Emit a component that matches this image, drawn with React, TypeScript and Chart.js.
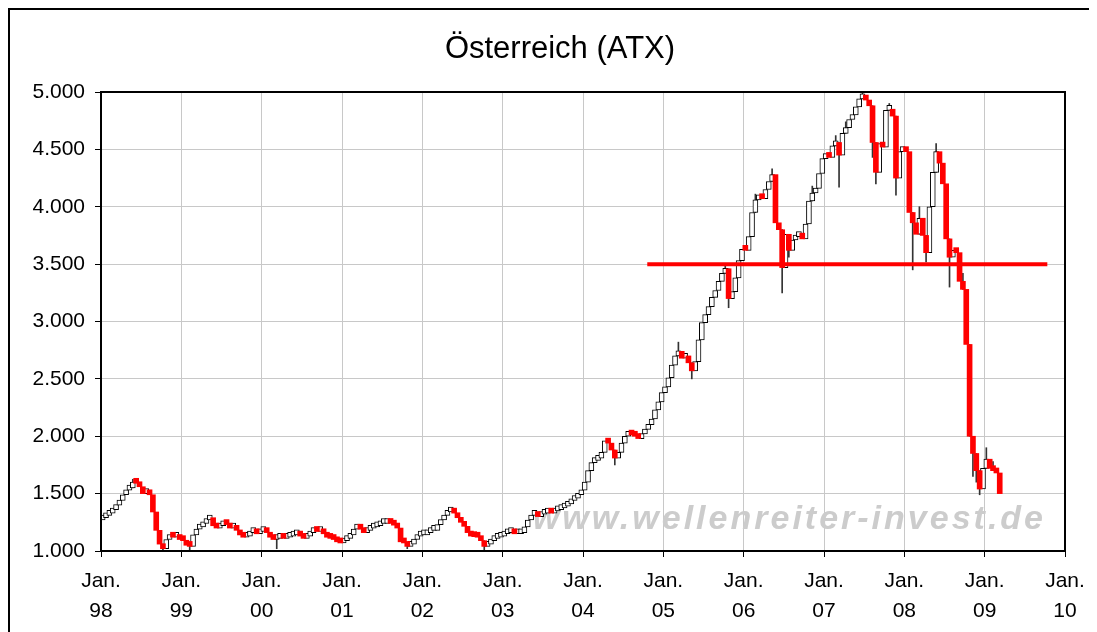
import React, { useEffect, useRef } from "react";
import { Chart, registerables } from "chart.js";

Chart.register(...registerables);

// ---------- data (semi-monthly closes) ----------
const chartTitle = "Österreich (ATX)";
const watermarkText = "www.wellenreiter-invest.de";
const yearTicks = [1998, 1999, 2000, 2001, 2002, 2003, 2004, 2005, 2006, 2007, 2008, 2009, 2010];
const firstOpen = 1270;

const close1998 = [1290, 1310, 1330, 1360, 1400, 1440, 1490, 1530, 1550, 1600, 1590, 1560, 1500, 1530, 1490, 1340, 1180, 1060, 1020, 1100, 1140, 1120, 1130, 1100];
const close1999 = [1090, 1050, 1040, 1140, 1190, 1210, 1240, 1270, 1290, 1220, 1200, 1220, 1250, 1230, 1200, 1210, 1180, 1140, 1120, 1130, 1160, 1160, 1150, 1170];
const close2000 = [1200, 1160, 1120, 1100, 1110, 1120, 1110, 1120, 1130, 1140, 1145, 1130, 1110, 1130, 1160, 1175, 1170, 1175, 1150, 1120, 1110, 1100, 1080, 1070];
const close2001 = [1090, 1110, 1140, 1190, 1200, 1190, 1160, 1180, 1200, 1210, 1220, 1240, 1240, 1245, 1240, 1225, 1200, 1080, 1070, 1040, 1060, 1100, 1130, 1140];
const close2002 = [1140, 1160, 1180, 1180, 1230, 1270, 1310, 1340, 1350, 1330, 1290, 1250, 1215, 1160, 1130, 1125, 1120, 1090, 1040, 1060, 1090, 1110, 1120, 1130];
const close2003 = [1150, 1160, 1165, 1150, 1150, 1160, 1210, 1270, 1310, 1310, 1300, 1320, 1330, 1340, 1330, 1350, 1360, 1375, 1390, 1410, 1440, 1460, 1490, 1530];
const close2004 = [1600, 1700, 1770, 1790, 1810, 1860, 1960, 1940, 1880, 1810, 1860, 1940, 2000, 2020, 2010, 2000, 1980, 2020, 2060, 2100, 2150, 2230, 2300, 2380];
const close2005 = [2430, 2510, 2620, 2700, 2740, 2680, 2700, 2640, 2570, 2650, 2840, 2990, 3060, 3130, 3210, 3270, 3350, 3420, 3460, 3200, 3260, 3380, 3530, 3630];
const close2006 = [3620, 3740, 3950, 4060, 4100, 4070, 4150, 4220, 4280, 3860, 3800, 3470, 3760, 3620, 3710, 3740, 3770, 3720, 3850, 4050, 4120, 4160, 4290, 4420];
const close2007 = [4460, 4430, 4530, 4560, 4450, 4640, 4690, 4760, 4800, 4870, 4940, 4960, 4930, 4880, 4560, 4300, 4550, 4520, 4840, 4850, 4790, 4250, 4480, 4500];
const close2008 = [4480, 3950, 3860, 3760, 3900, 3750, 3600, 4000, 4300, 4480, 4380, 4200, 3720, 3560, 3620, 3600, 3350, 3280, 2800, 2000, 1850, 1700, 1540, 1720];
const close2009 = [1800, 1720, 1700, 1680, 1500];

// notable wicks: [year, half-month index, value]
const highWicks = [
  [1998, 9, 1625], [2005, 4, 2820], [2006, 8, 4330], [2007, 11, 5000],
  [2008, 9, 4550], [2008, 19, 2230], [2009, 0, 1900], [2007, 19, 4900],
  [2006, 20, 4180], [2007, 3, 4620], [2008, 4, 4000], [2005, 18, 3500],
  [2006, 3, 4110], [2007, 6, 4740], [2008, 17, 3420], [2009, 2, 1780],
];
const lowWicks = [
  [1998, 18, 980], [1999, 2, 1000], [2000, 4, 1020], [2001, 19, 1020],
  [2002, 18, 1000], [2004, 9, 1750], [2005, 8, 2500], [2005, 19, 3120],
  [2006, 11, 3250], [2007, 4, 4170], [2007, 15, 4200], [2007, 21, 4100],
  [2008, 2, 3450], [2008, 13, 3300], [2008, 20, 1650], [2008, 22, 1490],
  [2006, 13, 3560], [2008, 6, 3520], [2007, 14, 4430], [2008, 21, 1600],
];

const resistanceLevel = 3500;
const resistanceFrom = 2004.8;
const resistanceTo = 2009.78;

// ---------- build candle tables ----------
const yearSeries: [number, number[]][] = [
  [1998, close1998], [1999, close1999], [2000, close2000], [2001, close2001],
  [2002, close2002], [2003, close2003], [2004, close2004], [2005, close2005],
  [2006, close2006], [2007, close2007], [2008, close2008], [2009, close2009],
];

type Candle = { x: number; o: number; c: number; key: string };
const candles: Candle[] = [];
{
  let prev = firstOpen;
  for (const [yr, arr] of yearSeries) {
    arr.forEach((c, j) => {
      candles.push({ x: yr + (j + 0.5) / 24, o: prev, c, key: `${yr}-${j}` });
      prev = c;
    });
  }
}
const upData = candles.filter((d) => d.c >= d.o).map((d) => ({ x: d.x, y: [d.o, d.c] }));
const downData = candles.filter((d) => d.c < d.o).map((d) => ({ x: d.x, y: [d.o, d.c] }));
const wickMap = new Map<string, { hi?: number; lo?: number }>();
highWicks.forEach(([y, j, v]) => {
  const k = `${y}-${j}`;
  wickMap.set(k, { ...(wickMap.get(k) || {}), hi: v });
});
lowWicks.forEach(([y, j, v]) => {
  const k = `${y}-${j}`;
  wickMap.set(k, { ...(wickMap.get(k) || {}), lo: v });
});
const wickData = candles
  .filter((d) => wickMap.has(d.key))
  .map((d) => {
    const w = wickMap.get(d.key)!;
    const lo = Math.min(d.o, d.c, w.lo ?? Infinity);
    const hi = Math.max(d.o, d.c, w.hi ?? -Infinity);
    return { x: d.x, y: [lo, hi] };
  });

const fontFamily = '"Liberation Sans", Arial, Helvetica, sans-serif';

const fmtThousands = (v: number) => {
  const s = String(Math.round(v));
  return s.replace(/\B(?=(\d{3})+(?!\d))/g, ".");
};

const CANVAS_W = 1104;
const CANVAS_H = 628;

const framePlugin = {
  id: "plotFrame",
  beforeDraw(chart: any) {
    const { ctx } = chart;
    ctx.save();
    ctx.fillStyle = "#fff";
    ctx.fillRect(0, 0, chart.width, chart.height);
    ctx.strokeStyle = "#000";
    ctx.lineWidth = 2;
    ctx.beginPath();
    ctx.moveTo(1, chart.height);
    ctx.lineTo(1, 1);
    ctx.lineTo(chart.width, 1);
    ctx.stroke();
    ctx.restore();
  },
  beforeDatasetsDraw(chart: any) {
    const { ctx, chartArea } = chart;
    ctx.save();
    ctx.font = `italic bold 34px ${fontFamily}`;
    ctx.fillStyle = "#cccccc";
    ctx.textAlign = "right";
    ctx.textBaseline = "alphabetic";
    (ctx as any).letterSpacing = "3px";
    ctx.fillText(watermarkText, chartArea.right - 19, chartArea.bottom - 22);
    ctx.restore();
  },
  afterDatasetsDraw(chart: any) {
    const { ctx, chartArea } = chart;
    ctx.save();
    ctx.strokeStyle = "#000";
    ctx.lineWidth = 2;
    ctx.strokeRect(chartArea.left, chartArea.top, chartArea.right - chartArea.left, chartArea.bottom - chartArea.top);
    ctx.restore();
  },
};

export default function App() {
  const ref = useRef<HTMLCanvasElement | null>(null);

  useEffect(() => {
    if (!ref.current) return;
    const chart = new Chart(ref.current, {
      type: "bar",
      data: {
        datasets: [
          {
            type: "line",
            data: [
              { x: resistanceFrom, y: resistanceLevel },
              { x: resistanceTo, y: resistanceLevel },
            ],
            borderColor: "#ff0000",
            borderWidth: 4,
            pointRadius: 0,
            borderCapStyle: "butt",
          } as any,
          {
            data: downData as any,
            backgroundColor: "#ff0000",
            borderWidth: 0,
            barThickness: 5,
            minBarLength: 5,
            grouped: false,
          },
          {
            data: upData as any,
            backgroundColor: "#ffffff",
            borderColor: "#000000",
            borderWidth: 1,
            borderSkipped: false,
            barThickness: 5,
            minBarLength: 5,
            grouped: false,
          },
          {
            data: wickData as any,
            backgroundColor: "#333333",
            borderWidth: 0,
            barThickness: 1,
            grouped: false,
          },
        ],
      },
      options: {
        responsive: false,
        animation: false,
        events: [],
        layout: { padding: { left: 0, right: 47, top: 84, bottom: 0 } },
        plugins: {
          legend: { display: false },
          tooltip: { enabled: false },
          title: { display: false },
        },
        scales: {
          x: {
            type: "linear",
            min: 1998,
            max: 2010,
            offset: false,
            grid: { color: "#c8c8c8", lineWidth: 1, tickLength: 6, tickColor: "#000", offset: false },
            border: { display: false },
            afterBuildTicks: (s: any) => {
              s.ticks = yearTicks.map((v) => ({ value: v }));
            },
            afterFit: (s: any) => {
              s.height = CANVAS_H - 543;
            },
            ticks: {
              autoSkip: false,
              maxRotation: 0,
              minRotation: 0,
              padding: 9,
              color: "#000",
              font: { family: fontFamily, size: 21, lineHeight: 1.45 },
              callback: (v: any) => ["Jan.", String(Number(v) % 100).padStart(2, "0")],
            },
          },
          y: {
            type: "linear",
            min: 1000,
            max: 5000,
            grid: { color: "#c8c8c8", lineWidth: 1, tickLength: 6, tickColor: "#000" },
            border: { display: false },
            afterFit: (s: any) => {
              s.width = 93;
            },
            ticks: {
              stepSize: 500,
              padding: 10,
              color: "#000",
              font: { family: fontFamily, size: 21 },
              callback: (v: any) => fmtThousands(Number(v)),
            },
          },
        },
      } as any,
      plugins: [framePlugin],
    });
    return () => chart.destroy();
  }, []);

  return (
    <>
      <style>{`html,body{overflow:hidden;}`}</style>
      <div style={{ position: "relative", width: 1089, height: 624, overflow: "hidden" }}>
        <div style={{ position: "relative", width: CANVAS_W, height: CANVAS_H }}>
          <canvas ref={ref} width={CANVAS_W} height={CANVAS_H} style={{ display: "block" }} />
          <div
            style={{
              position: "absolute",
              left: 0,
              top: 21.5,
              width: CANVAS_W,
              textAlign: "center",
              fontFamily,
              fontSize: 31,
              lineHeight: "36px",
              color: "#000",
              whiteSpace: "nowrap",
            }}
          >
            {chartTitle}
          </div>
        </div>
      </div>
    </>
  );
}
